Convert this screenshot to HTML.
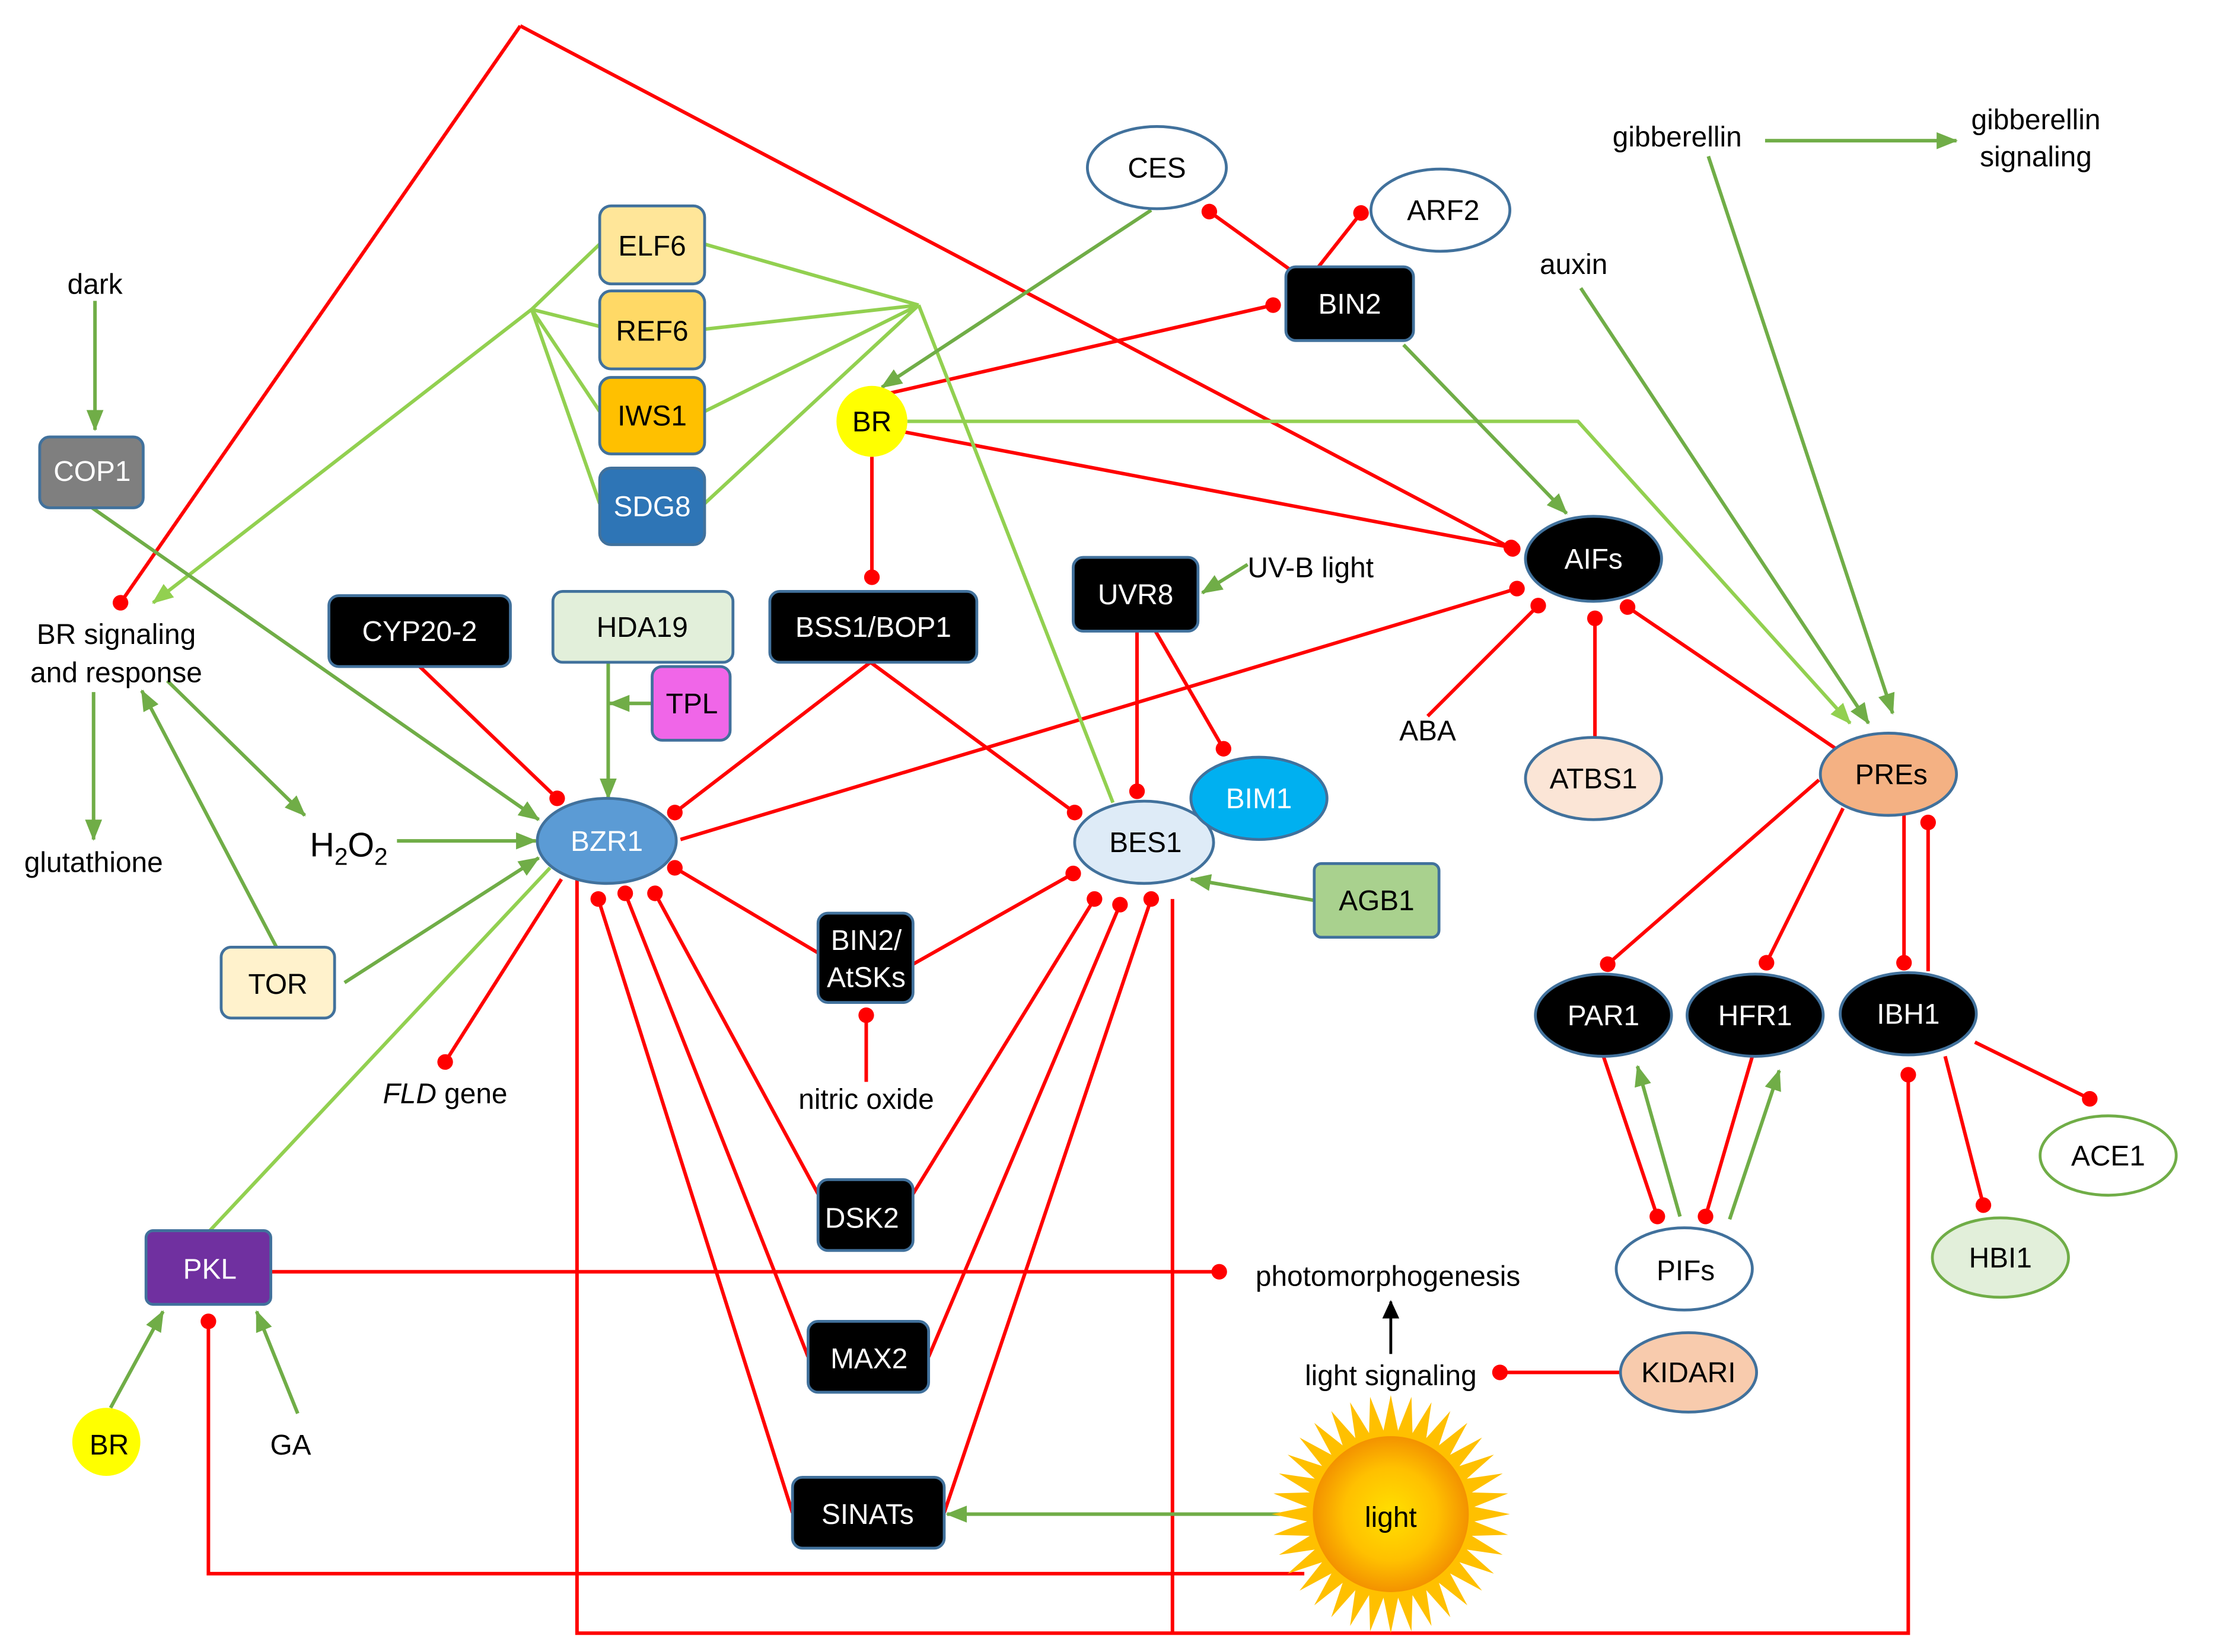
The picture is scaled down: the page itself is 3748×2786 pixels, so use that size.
<!DOCTYPE html>
<html><head><meta charset="utf-8"><style>
html,body{margin:0;padding:0;background:#fff}
svg{display:block}
text{font-family:"Liberation Sans",sans-serif;font-size:20px;fill:#000}
</style></head><body>
<svg width="3748" height="2786" viewBox="0 0 1568 1165" xmlns="http://www.w3.org/2000/svg">
<defs>
<marker id="d" markerUnits="userSpaceOnUse" markerWidth="14" markerHeight="14" refX="7" refY="7" orient="auto"><circle cx="7" cy="7" r="5.5" fill="#ff0000"/></marker>
<marker id="a" markerUnits="userSpaceOnUse" markerWidth="16" markerHeight="14" refX="14" refY="7" orient="auto"><path d="M0,1 L15,7 L0,13 Z" fill="#70ad47"/></marker>
<marker id="al" markerUnits="userSpaceOnUse" markerWidth="16" markerHeight="14" refX="14" refY="7" orient="auto"><path d="M0,1 L15,7 L0,13 Z" fill="#92d050"/></marker>
<marker id="ab" markerUnits="userSpaceOnUse" markerWidth="14" markerHeight="12" refX="12" refY="6" orient="auto"><path d="M0,0 L13,6 L0,12 Z" fill="#000"/></marker>
<radialGradient id="sun" cx="50%" cy="50%" r="50%"><stop offset="0" stop-color="#ffe000"/><stop offset="0.6" stop-color="#ffc000"/><stop offset="1" stop-color="#f39200"/></radialGradient>
<polygon id="ray" points="-7,-50 0,-84 7,-50" fill="#ffc000"/>
</defs>

<g stroke="#ff0000" stroke-width="2.5" fill="none">
<path d="M367,18 L85,425" marker-end="url(#d)"/>
<path d="M367,18 L1067,387" marker-end="url(#d)"/>
<path d="M910,190 L853,149" marker-end="url(#d)"/>
<path d="M930,188 L960,150" marker-end="url(#d)"/>
<path d="M628,277 L898,215" marker-end="url(#d)"/>
<path d="M630,303 L1066,386" marker-end="url(#d)"/>
<path d="M615,322 L615,407" marker-end="url(#d)"/>
<path d="M480,592 L1070,415" marker-end="url(#d)"/>
<path d="M1007,505 L1085,427" marker-end="url(#d)"/>
<path d="M1125,520 L1125,436" marker-end="url(#d)"/>
<path d="M1295,528 L1148,428" marker-end="url(#d)"/>
<path d="M296,470 L393,563" marker-end="url(#d)"/>
<path d="M614,467 L476,573" marker-end="url(#d)"/>
<path d="M614,467 L758,573" marker-end="url(#d)"/>
<path d="M802,445 L802,558" marker-end="url(#d)"/>
<path d="M815,445 L863,528" marker-end="url(#d)"/>
<path d="M577,672 L476,612" marker-end="url(#d)"/>
<path d="M644,680 L757,616" marker-end="url(#d)"/>
<path d="M611,763 L611,716" marker-end="url(#d)"/>
<path d="M577,842 L462,630" marker-end="url(#d)"/>
<path d="M644,842 L772,634" marker-end="url(#d)"/>
<path d="M570,957 L441,630" marker-end="url(#d)"/>
<path d="M655,957 L790,638" marker-end="url(#d)"/>
<path d="M559,1067 L422,634" marker-end="url(#d)"/>
<path d="M666,1067 L812,634" marker-end="url(#d)"/>
<path d="M396,620 L314,749" marker-end="url(#d)"/>
<path d="M407,620 L407,1152 L1346,1152 L1346,758" marker-end="url(#d)"/>
<path d="M827,634 L827,1152"/>
<path d="M191,897 L860,897" marker-end="url(#d)"/>
<path d="M920,1110 L147,1110 L147,932" marker-end="url(#d)"/>
<path d="M1143,968 L1058,968" marker-end="url(#d)"/>
<path d="M1283,550 L1134,680" marker-end="url(#d)"/>
<path d="M1300,570 L1246,679" marker-end="url(#d)"/>
<path d="M1343,574 L1343,679" marker-end="url(#d)"/>
<path d="M1360,685 L1360,580" marker-end="url(#d)"/>
<path d="M1393,735 L1474,775" marker-end="url(#d)"/>
<path d="M1372,745 L1399,850" marker-end="url(#d)"/>
<path d="M1131,745 L1169,858" marker-end="url(#d)"/>
<path d="M1236,745 L1203,858" marker-end="url(#d)"/>
</g>

<g stroke="#92d050" stroke-width="2.5" fill="none">
<path d="M375,218 L423,172 M375,218 L423,230 M375,218 L423,290 M375,218 L423,355"/>
<path d="M375,218 L108,425" marker-end="url(#al)"/>
<path d="M648,215 L497,172 M648,215 L497,232 M648,215 L497,290 M648,215 L497,355 M648,215 L785,566"/>
<path d="M148,868 L388,612"/>
<path d="M640,297 L1113,297 L1305,510" marker-end="url(#al)"/>
</g>
<g stroke="#70ad47" stroke-width="2.5" fill="none">
<path d="M67,212 L67,303" marker-end="url(#a)"/>
<path d="M65,358 L380,578" marker-end="url(#a)"/>
<path d="M66,488 L66,592" marker-end="url(#a)"/>
<path d="M118,480 L215,575" marker-end="url(#a)"/>
<path d="M195,668 L100,487" marker-end="url(#a)"/>
<path d="M280,593 L378,593" marker-end="url(#a)"/>
<path d="M243,693 L380,605" marker-end="url(#a)"/>
<path d="M429,467 L429,563" marker-end="url(#a)"/>
<path d="M460,496 L430,496" marker-end="url(#a)"/>
<path d="M812,148 L622,273" marker-end="url(#a)"/>
<path d="M990,243 L1105,362" marker-end="url(#a)"/>
<path d="M1115,203 L1318,510" marker-end="url(#a)"/>
<path d="M1205,110 L1335,503" marker-end="url(#a)"/>
<path d="M1245,99 L1380,99" marker-end="url(#a)"/>
<path d="M880,398 L848,418" marker-end="url(#a)"/>
<path d="M927,635 L840,620" marker-end="url(#a)"/>
<path d="M78,993 L115,925" marker-end="url(#a)"/>
<path d="M210,997 L181,925" marker-end="url(#a)"/>
<path d="M905,1068 L668,1068" marker-end="url(#a)"/>
<path d="M1185,858 L1155,752" marker-end="url(#a)"/>
<path d="M1220,860 L1255,755" marker-end="url(#a)"/>
</g>
<path d="M981,955 L981,918" stroke="#000" stroke-width="2" marker-end="url(#ab)"/>

<g stroke="#41719c" stroke-width="2">
<rect x="28" y="308" width="73" height="50" rx="7" fill="#7f7f7f"/>
<rect x="156" y="668" width="80" height="50" rx="7" fill="#fff2cc"/>
<rect x="232" y="420" width="128" height="50" rx="7" fill="#000"/>
<rect x="390" y="417" width="127" height="50" rx="7" fill="#e2efda"/>
<rect x="460" y="470" width="55" height="52" rx="7" fill="#f066e8"/>
<rect x="423" y="145" width="74" height="55" rx="8" fill="#ffe699"/>
<rect x="423" y="205" width="74" height="55" rx="8" fill="#ffd966"/>
<rect x="423" y="266" width="74" height="54" rx="8" fill="#ffc000"/>
<rect x="423" y="330" width="74" height="54" rx="8" fill="#2e75b6"/>
<rect x="907" y="188" width="90" height="52" rx="7" fill="#000"/>
<rect x="543" y="417" width="146" height="50" rx="7" fill="#000"/>
<rect x="757" y="393" width="88" height="52" rx="7" fill="#000"/>
<rect x="927" y="609" width="88" height="52" rx="5" fill="#a9d18e"/>
<rect x="577" y="644" width="67" height="63" rx="7" fill="#000"/>
<rect x="577" y="832" width="67" height="50" rx="7" fill="#000"/>
<rect x="570" y="932" width="85" height="50" rx="7" fill="#000"/>
<rect x="559" y="1042" width="107" height="50" rx="7" fill="#000"/>
<rect x="103" y="868" width="88" height="52" rx="5" fill="#7030a0"/>
<ellipse cx="816" cy="118" rx="49" ry="29" fill="#fff"/>
<ellipse cx="1016" cy="148" rx="49" ry="29" fill="#fff"/>
<ellipse cx="1124" cy="394" rx="48" ry="30" fill="#000"/>
<ellipse cx="1124" cy="549" rx="48" ry="29" fill="#fbe5d6"/>
<ellipse cx="1332" cy="546" rx="48" ry="29" fill="#f4b183"/>
<ellipse cx="428" cy="593" rx="49" ry="30" fill="#5b9bd5"/>
<ellipse cx="807" cy="594" rx="49" ry="29" fill="#deebf7"/>
<ellipse cx="888" cy="563" rx="48" ry="29" fill="#00b0f0"/>
<ellipse cx="1191" cy="968" rx="48" ry="28" fill="#f8cbad"/>
<ellipse cx="1131" cy="716" rx="48" ry="29" fill="#000"/>
<ellipse cx="1238" cy="716" rx="48" ry="29" fill="#000"/>
<ellipse cx="1346" cy="715" rx="48" ry="29" fill="#000"/>
<ellipse cx="1188" cy="895" rx="48" ry="29" fill="#fff"/>
</g>
<ellipse cx="1487" cy="815" rx="48" ry="28" fill="#fff" stroke="#70ad47" stroke-width="2"/>
<ellipse cx="1411" cy="887" rx="48" ry="28" fill="#e2efda" stroke="#70ad47" stroke-width="2"/>
<circle cx="615" cy="297" r="25" fill="#ffff00"/>
<circle cx="75" cy="1017" r="24" fill="#ffff00"/>

<g transform="translate(981,1068)">
<use href="#ray" transform="rotate(0)"/><use href="#ray" transform="rotate(10)"/><use href="#ray" transform="rotate(20)"/><use href="#ray" transform="rotate(30)"/><use href="#ray" transform="rotate(40)"/><use href="#ray" transform="rotate(50)"/><use href="#ray" transform="rotate(60)"/><use href="#ray" transform="rotate(70)"/><use href="#ray" transform="rotate(80)"/><use href="#ray" transform="rotate(90)"/><use href="#ray" transform="rotate(100)"/><use href="#ray" transform="rotate(110)"/><use href="#ray" transform="rotate(120)"/><use href="#ray" transform="rotate(130)"/><use href="#ray" transform="rotate(140)"/><use href="#ray" transform="rotate(150)"/><use href="#ray" transform="rotate(160)"/><use href="#ray" transform="rotate(170)"/><use href="#ray" transform="rotate(180)"/><use href="#ray" transform="rotate(190)"/><use href="#ray" transform="rotate(200)"/><use href="#ray" transform="rotate(210)"/><use href="#ray" transform="rotate(220)"/><use href="#ray" transform="rotate(230)"/><use href="#ray" transform="rotate(240)"/><use href="#ray" transform="rotate(250)"/><use href="#ray" transform="rotate(260)"/><use href="#ray" transform="rotate(270)"/><use href="#ray" transform="rotate(280)"/><use href="#ray" transform="rotate(290)"/><use href="#ray" transform="rotate(300)"/><use href="#ray" transform="rotate(310)"/><use href="#ray" transform="rotate(320)"/><use href="#ray" transform="rotate(330)"/><use href="#ray" transform="rotate(340)"/><use href="#ray" transform="rotate(350)"/>
<circle r="55" fill="url(#sun)"/>
</g>

<g text-anchor="middle">
<text x="67" y="207">dark</text>
<text x="65" y="339" style="fill:#fff">COP1</text>
<text x="82" y="454">BR signaling</text>
<text x="82" y="481">and response</text>
<text x="66" y="615">glutathione</text>
<text x="246" y="604" style="font-size:24px">H<tspan dy="6" style="font-size:17px">2</tspan><tspan dy="-6">O</tspan><tspan dy="6" style="font-size:17px">2</tspan></text>
<text x="196" y="701">TOR</text>
<text x="296" y="452" style="fill:#fff">CYP20-2</text>
<text x="453" y="449">HDA19</text>
<text x="488" y="503">TPL</text>
<text x="460" y="180">ELF6</text>
<text x="460" y="240">REF6</text>
<text x="460" y="300">IWS1</text>
<text x="460" y="364" style="fill:#fff">SDG8</text>
<text x="615" y="304">BR</text>
<text x="816" y="125">CES</text>
<text x="1018" y="155">ARF2</text>
<text x="952" y="221" style="fill:#fff">BIN2</text>
<text x="616" y="449" style="fill:#fff">BSS1/BOP1</text>
<text x="801" y="426" style="fill:#fff">UVR8</text>
<text x="1124" y="401" style="fill:#fff">AIFs</text>
<text x="1007" y="522">ABA</text>
<text x="1124" y="556">ATBS1</text>
<text x="1334" y="553">PREs</text>
<text x="1183" y="103">gibberellin</text>
<text x="1436" y="91">gibberellin</text>
<text x="1436" y="117">signaling</text>
<text x="1110" y="193">auxin</text>
<text x="428" y="600" style="fill:#fff">BZR1</text>
<text x="808" y="601">BES1</text>
<text x="888" y="570" style="fill:#fff">BIM1</text>
<text x="971" y="642">AGB1</text>
<text x="611" y="670" style="fill:#fff">BIN2/</text>
<text x="611" y="696" style="fill:#fff">AtSKs</text>
<text x="611" y="782">nitric oxide</text>
<text x="608" y="866" style="fill:#fff">DSK2</text>
<text x="613" y="965" style="fill:#fff">MAX2</text>
<text x="612" y="1075" style="fill:#fff">SINATs</text>
<text x="314" y="778"><tspan font-style="italic">FLD</tspan> gene</text>
<text x="148" y="902" style="fill:#fff">PKL</text>
<text x="77" y="1026">BR</text>
<text x="205" y="1026">GA</text>
<text x="979" y="907">photomorphogenesis</text>
<text x="981" y="977">light signaling</text>
<text x="1191" y="975">KIDARI</text>
<text x="981" y="1077">light</text>
<text x="1131" y="723" style="fill:#fff">PAR1</text>
<text x="1238" y="723" style="fill:#fff">HFR1</text>
<text x="1346" y="722" style="fill:#fff">IBH1</text>
<text x="1189" y="903">PIFs</text>
<text x="1487" y="822">ACE1</text>
<text x="1411" y="894">HBI1</text>
</g>
<text x="880" y="407">UV-B light</text>
</svg>
</body></html>
